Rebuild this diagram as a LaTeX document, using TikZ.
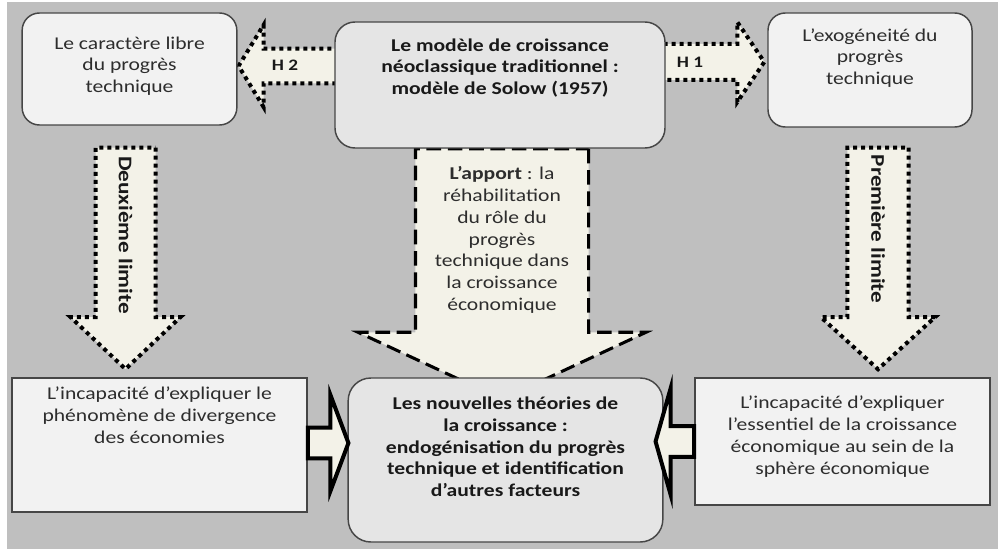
\documentclass[tikz,border=0pt]{standalone}
\usepackage{fontspec}
\setmainfont{Carlito}[FakeStretch=1.2]
\usetikzlibrary{calc}

\definecolor{bgcol}{RGB}{191,191,191}
\definecolor{lightbox}{RGB}{242,242,242}
\definecolor{midbox}{RGB}{229,229,229}
\definecolor{cream}{RGB}{243,242,232}
\definecolor{edge}{RGB}{70,70,70}
\definecolor{txt}{RGB}{45,45,45}

\pgfdeclarelayer{bg}
\pgfdeclarelayer{arrows}
\pgfsetlayers{bg,arrows,main}

% block arrow: style, tail, tip, half shaft, half head, head length
\newcommand\blockarrow[6]{%
  \coordinate (ba-b) at ($(#3)!#6!(#2)$);
  \filldraw[#1] ($(#2)!#4!90:(#3)$) -- ($(ba-b)!#4!90:(#3)$) -- ($(ba-b)!#5!90:(#3)$)
    -- (#3) -- ($(ba-b)!#5!-90:(#3)$) -- ($(ba-b)!#4!-90:(#3)$) -- ($(#2)!#4!-90:(#3)$) -- cycle;}

\tikzset{
  roundbox/.style={draw=edge, line width=1.1pt, rounded corners=13pt, fill=lightbox},
  flatbox/.style={draw=edge, line width=1.4pt, fill=lightbox},
  boxtext/.style={align=center, text=txt, font=\fontsize{13.5}{16.3}\selectfont},
  boldtext/.style={align=center, text=black!90, font=\fontsize{13.5}{16.3}\selectfont\bfseries},
  dotarrow/.style={draw=black, fill=cream, line width=3pt, dash pattern=on 3pt off 3pt},
  dasharrow/.style={draw=black, fill=cream, line width=2.3pt, dash pattern=on 11pt off 5pt},
  solidarrow/.style={draw=black, fill=cream, line width=3pt},
  arrowlabel/.style={text=black!90, font=\fontsize{12}{14}\selectfont\bfseries}
}

\begin{document}
\begin{tikzpicture}[x=0.75pt, y=-0.75pt]
  \useasboundingbox (0,0) rectangle (998,549);
  \begin{pgfonlayer}{bg}
    \fill[bgcol] (7,2) rectangle (998,549);
  \end{pgfonlayer}

  % boxes
  \node[roundbox, minimum width=161pt, minimum height=84pt] (libre) at (129.5,69) {};
  \node[roundbox, fill=midbox, rounded corners=15pt, minimum width=247.5pt, minimum height=94.5pt] (model) at (500,85) {};
  \node[roundbox, minimum width=153pt, minimum height=85.5pt] (exo) at (870,70) {};
  \node[flatbox, minimum width=221pt, minimum height=100.5pt] (diverg) at (159.5,445) {};
  \node[roundbox, fill=midbox, rounded corners=17pt, minimum width=236pt, minimum height=123pt] (nouv) at (505.5,460) {};
  \node[flatbox, minimum width=221pt, minimum height=95pt] (essen) at (842.5,441.5) {};

  % texts
  \node[boxtext] (libre-t) at ($(libre)+(0,-3)$) {Le caractère libre\\du progrès\\technique};
  \node[boldtext] (model-t) at ($(model)+(0,-17)$) {Le modèle de croissance\\néoclassique traditionnel :\\modèle de Solow (1957)};
  \node[boxtext] (exo-t) at ($(exo)+(0,-12)$) {L’exogéneité du\\progrès\\technique};
  \node[boxtext] (diverg-t) at ($(diverg)+(0,-30)$) {L’incapacité d’expliquer le\\phénomène de divergence\\des économies};
  \node[boldtext] (nouv-t) at ($(nouv)+(0,-13)$) {Les nouvelles théories de\\la croissance :\\endogénisation du progrès\\technique et identification\\d’autres facteurs};
  \node[boxtext] (essen-t) at ($(essen)+(0,-5)$) {L’incapacité d’expliquer\\l’essentiel de la croissance\\économique au sein de la\\sphère économique};

  % arrows behind the boxes
  \coordinate (h2-tip) at ($(libre.east)+(1,-3)$);
  \coordinate (h2-tail) at ($(model.west |- h2-tip)+(10,0)$);
  \coordinate (h1-tip) at ($(exo.west)+(-3,-8)$);
  \coordinate (h1-tail) at ($(model.east |- h1-tip)+(-10,0)$);
  \coordinate (dl-tail) at ($(libre.south)+(-4,22)$);
  \coordinate (dl-tip) at ($(dl-tail |- diverg.north)+(0,-8)$);
  \coordinate (pl-tail) at ($(exo.south)+(8,20)$);
  \coordinate (pl-tip) at ($(pl-tail |- essen.north)+(0,-8)$);
  \coordinate (ap-tail) at ($(model.south)+(2,0)$);
  \coordinate (ap-tip) at ($(ap-tail |- nouv.north)+(0,22)$);
  \begin{pgfonlayer}{arrows}
    \blockarrow{dotarrow}{h2-tail}{h2-tip}{13pt}{30.75pt}{18.75pt}
    \blockarrow{dotarrow}{h1-tail}{h1-tip}{13.5pt}{30pt}{20.25pt}
    \blockarrow{dotarrow}{dl-tail}{dl-tip}{22.5pt}{41.25pt}{39pt}
    \blockarrow{dotarrow}{pl-tail}{pl-tip}{22.9pt}{42.75pt}{39pt}
    \blockarrow{dasharrow}{ap-tail}{ap-tip}{64.9pt}{108pt}{50.25pt}
  \end{pgfonlayer}
  \node[arrowlabel] (h2) at (285,65) {H 2};
  \node[arrowlabel] (h1) at (690,62) {H 1};
  \node[arrowlabel, font=\fontsize{14.5}{16}\selectfont\bfseries, rotate=-90] (dl) at (125.5,235) {Deuxième limite};
  \node[arrowlabel, font=\fontsize{14.5}{16}\selectfont\bfseries, rotate=-90] (pl) at (878,229) {Première limite};
  \node[boxtext] (ap) at (502,240) {\textbf{L’apport} : la\\réhabilitation\\du rôle du\\progrès\\technique dans\\la croissance\\économique};

  % arrows in front of the bottom box
  \coordinate (lb-tail) at ($(diverg.east)+(0,-2)$);
  \coordinate (lb-tip) at ($(nouv.west |- lb-tail)+(1,0)$);
  \coordinate (rb-tail) at (essen.west);
  \coordinate (rb-tip) at ($(nouv.east |- rb-tail)+(-8,0)$);
  \blockarrow{solidarrow}{lb-tail}{lb-tip}{11.6pt}{36pt}{13.5pt}
  \blockarrow{solidarrow}{rb-tail}{rb-tip}{11.6pt}{39.75pt}{11.25pt}
\end{tikzpicture}
\end{document}
